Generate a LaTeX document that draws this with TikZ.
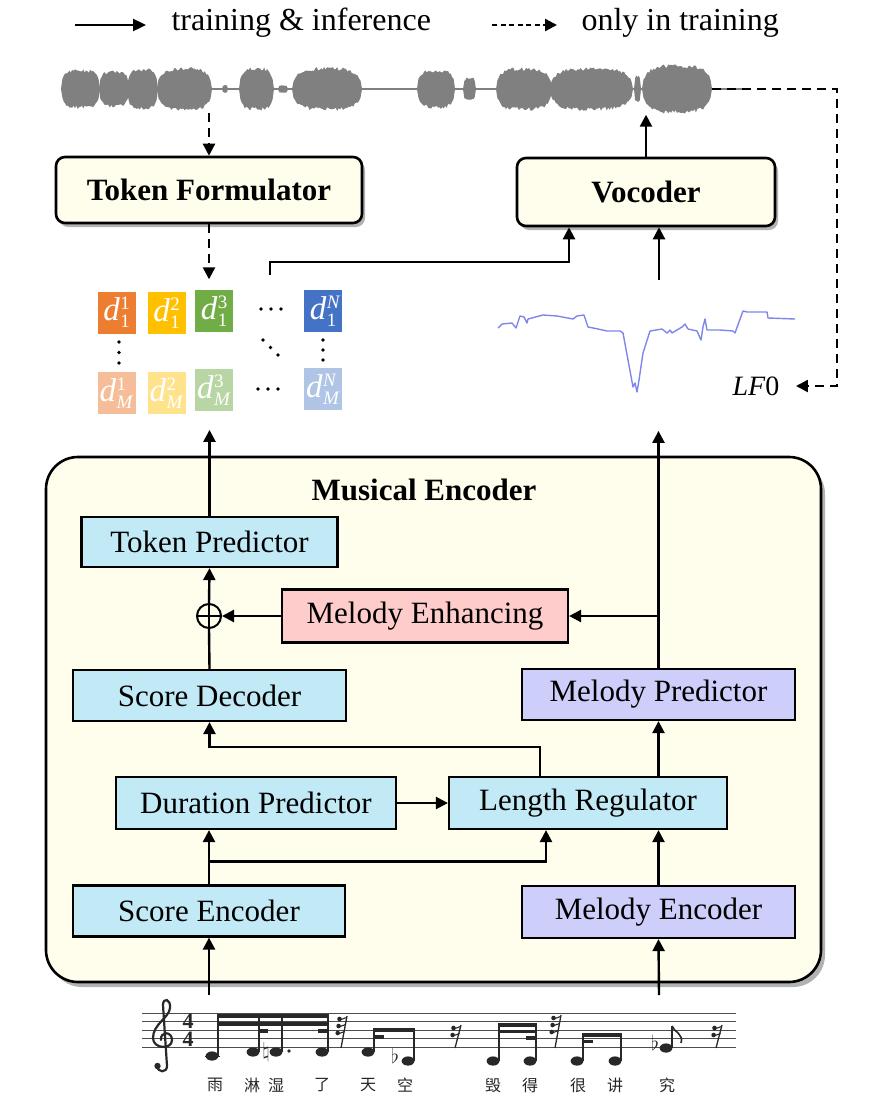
\documentclass[tikz,border=0pt]{standalone}
\usepackage{fontspec}
\setmainfont{Liberation Serif}
\newfontfamily\cjk{Noto Sans CJK SC}
\usetikzlibrary{arrows.meta,shadows}
\definecolor{cream}{RGB}{255,253,235}
\definecolor{lblue}{RGB}{194,234,246}
\definecolor{lpurple}{RGB}{206,206,250}
\definecolor{lpink}{RGB}{255,204,204}
\definecolor{wavegray}{RGB}{128,128,128}
\definecolor{lfblue}{RGB}{125,135,235}
\definecolor{cA}{RGB}{237,125,49}
\definecolor{cB}{RGB}{255,192,0}
\definecolor{cC}{RGB}{112,173,71}
\definecolor{cD}{RGB}{68,114,196}
\definecolor{notec}{RGB}{40,40,40}
\newcommand\dtok[2]{{\itshape d}\kern0.5pt\makebox[0pt][l]{\raisebox{11pt}{\fontsize{19}{19}\selectfont #1}}\raisebox{-7pt}{\fontsize{19}{19}\selectfont #2}}
\tikzset{
  declare function={env(\t)=sqrt(max(0,1-\t*\t*\t*\t));},
  arr/.style={line width=2.4pt,-{Triangle[length=12pt,width=12pt]}},
  darr/.style={line width=2.4pt,dash pattern=on 9pt off 6pt,-{Triangle[length=12pt,width=12pt]}},
  plain/.style={line width=2.4pt},
  mbox/.style={draw,line width=2.2pt,inner sep=0pt,font=\fontsize{31}{36}\selectfont},
  topbox/.style={draw,line width=2.6pt,rounded corners=9pt,fill=cream,inner sep=0pt,
     font=\fontsize{31}{36}\selectfont\bfseries,
     drop shadow={shadow xshift=3pt,shadow yshift=-4pt,opacity=0.3,fill=black}},
  tok/.style={minimum width=38pt,minimum height=42pt,inner sep=0pt,text=white,font=\fontsize{33}{34}\selectfont},
  staff/.style={line width=0.9pt,black!70},
  tsig/.style={notec,font=\fontsize{22}{22}\selectfont\bfseries,inner sep=0pt},
}
\newcommand\wblob[3]{%
  \fill[wavegray] plot[domain=#1:#2,samples={int((#2-#1)/1.5)+3}] (\x,{89-#3*env(2*(\x-#1)/(#2-#1)-1)*(0.82+0.18*rnd)})
   -- plot[domain=#2:#1,samples={int((#2-#1)/1.5)+3}] (\x,{89+#3*env(2*(\x-#1)/(#2-#1)-1)*(0.82+0.18*rnd)}) -- cycle;}
\newcommand\nhead[2]{\fill[notec] (#1,#2) ellipse (6.4 and 4.6);}
\newcommand\srest[3]{%
  \draw[notec,line width=1.3pt] ({#1+4},#2) -- ({#1-2},1048);
  \foreach \k in {1,...,#3}{
    \fill[notec] ({#1-3.5-0.9*(\k-1)},{#2+3+7*(\k-1)}) circle (2.3);
    \draw[notec,line width=1.1pt] ({#1-3.5-0.9*(\k-1)},{#2+4+7*(\k-1)}) -- ({#1+3.5-0.9*(\k-1)},{#2+1.5+7*(\k-1)});
  }}
\begin{document}
\begin{tikzpicture}[x=1pt,y=-1pt]
\useasboundingbox (0,0) rectangle (868,1111);

% ---------------- legend
\coordinate (l1a) at (75,25); \coordinate (l1b) at (146,25);
\draw[line width=2.4pt,-{Triangle[length=13pt,width=12pt]}] (l1a) -- (l1b);
\node[anchor=west,font=\fontsize{32}{36}\selectfont] (lg1) at (168,23) {training \& inference};
\coordinate (l2a) at (492,25); \coordinate (l2b) at (557,25);
\draw[line width=2.4pt,dash pattern=on 5pt off 3.5pt,-{Triangle[length=12pt,width=12pt]}] (l2a) -- (l2b);
\node[anchor=west,font=\fontsize{32}{36}\selectfont] (lg2) at (578,23) {only in training};

% ---------------- waveform
\draw[wavegray,line width=2.5pt] (61,89) -- (748,89);
\wblob{61}{100}{20}
\wblob{99}{129}{19}
\wblob{127}{158}{21}
\wblob{157}{212}{22}
\wblob{222}{228}{4}
\wblob{239}{274}{22}
\wblob{278}{288}{4}
\wblob{292}{362}{22}
\wblob{417}{455}{20}
\wblob{463}{476}{12}
\wblob{496}{552}{22}
\wblob{550}{633}{22}
\wblob{634}{641}{14}
\wblob{642}{712}{25}

% ---------------- top boxes
\node[topbox,minimum width=306pt,minimum height=66pt] (tf) at (209,190) {Token Formulator};
\node[topbox,minimum width=258pt,minimum height=68pt] (voc) at (646,192) {Vocoder};

\coordinate (wv1) at (209,113);
\draw[darr] (wv1) -- (tf.north);
\draw[darr] (tf.south) -- ++(0,55);
\draw[arr] (voc.north) -- ++(0,-42);

% ---------------- tokens
\node[tok,fill=cA] (t11) at (116.5,312.5) {\dtok{1}{1}};
\node[tok,fill=cB] (t12) at (166.5,313) {\dtok{2}{1}};
\node[tok,fill=cC] (t13) at (214,311) {\dtok{3}{1}};
\node[tok,fill=cD] (t1N) at (323,311) {\dtok{\textit{N}}{1}};
\node[tok,fill=cA!50] (tM1) at (116.5,393) {\dtok{1}{\textit{M}}};
\node[tok,fill=cB!45] (tM2) at (166.5,393) {\dtok{2}{\textit{M}}};
\node[tok,fill=cC!50] (tM3) at (214,390) {\dtok{3}{\textit{M}}};
\node[tok,fill=cD!42] (tMN) at (323,389) {\dtok{\textit{N}}{\textit{M}}};
\foreach \p in {(119,342),(119,352.5),(119,363),(323,340),(323,350),(323,360),
  (261,309),(271,309),(281,309),(258,389),(268,389),(278,389),(263,340),(270.5,347.5),(278,355)}
  \fill \p circle (1.9);

\coordinate (tk) at (270,275);
\draw[arr] (tk) -- ++(0,-13) -| ([xshift=-77pt]voc.south);

% ---------------- LF0 curve
\draw[lfblue,line width=1.4pt,line join=round] plot coordinates {
(498,328)(502,324)(512,323)(516,328)(520,316)(524,317)(527,323)(528,319)(543,315)(557,316)
(573,319)(577,316)(584,315)(588,327)(598,329)(607,331)(620,331)(623,333)(628,360)(633,387)
(635,383)(637,392)(639,380)(643,353)(650,331)(662,329)(667,333)(670,330)(672,333)(682,327)
(685,324)(688,329)(697,331)(701,340)(703,327)(705,319)(707,330)(720,330)(733,331)(735,333)
(743,311)(747,312)(767,312)(768,318)(795,319)};
\node[font=\fontsize{28}{30}\selectfont] (lf0) at (756,386) {\textit{LF}0};
\coordinate (lfc) at (659,280);
\draw[arr] (lfc) -- (lfc |- voc.south);
\coordinate (wend) at (712,89);
\draw[darr] (wend) -- ++(125,0) |- ([xshift=13pt]lf0.east);

% ---------------- Musical Encoder
\draw[line width=2.6pt,rounded corners=32pt,fill=cream,
  drop shadow={shadow xshift=4pt,shadow yshift=-5pt,opacity=0.3,fill=black}]
  (46,457) rectangle (821,982);
\node[font=\fontsize{31}{36}\selectfont\bfseries] (mtitle) at (424,490) {Musical Encoder};

\node[mbox,fill=lblue,minimum width=256pt,minimum height=50pt] (tp) at (209.5,542) {Token Predictor};
\node[mbox,fill=lpink,minimum width=286pt,minimum height=53pt] (me) at (425,616) {Melody Enhancing};
\node[draw,circle,line width=2pt,minimum size=24pt,inner sep=0pt] (op) at (209,616) {};
\draw[line width=2pt] (op.north) -- (op.south) (op.west) -- (op.east);
\node[mbox,fill=lblue,minimum width=273pt,minimum height=51pt] (sd) at (209.5,695.5) {Score Decoder};
\node[mbox,fill=lpurple,minimum width=273pt,minimum height=51pt] (mp) at (658.5,694.5) {Melody Predictor};
\node[mbox,fill=lblue,minimum width=280pt,minimum height=52pt] (dp) at (256,803) {Duration Predictor};
\node[mbox,fill=lblue,minimum width=278pt,minimum height=52pt] (lr) at (588,803) {Length Regulator};
\node[mbox,fill=lblue,minimum width=272pt,minimum height=51pt] (se) at (209,911) {Score Encoder};
\node[mbox,fill=lpurple,minimum width=273pt,minimum height=52pt] (mel) at (658.5,912) {Melody Encoder};

\draw[arr] (se.north) -- (se.north |- dp.south);
\draw[arr] ([yshift=23pt]se.north) -| ([xshift=-42pt]lr.south);
\draw[arr] (dp.east) -- (lr.west);
\draw[arr] (mel.north) -- (mel.north |- lr.south);
\draw[arr] (mel.north |- lr.north) -- (mp.south);
\draw[arr] ([xshift=-48pt]lr.north) -- ++(0,-29) -| (sd.south);
\draw[plain] (sd.north) -- (op.south);
\draw[arr] (op.north) -- (tp.south);
\draw[arr] (me.west) -- (op.east);
\draw[arr] (tp.north) -- ++(0,-86);
\draw[arr] (mp.north) -- ++(0,-237);
\draw[arr] (mp.north |- me.east) -- (me.east);

\coordinate (sc1) at (209,995);
\coordinate (sc2) at (659,995);
\draw[arr] (sc1) -- (se.south);
\draw[arr] (sc2) -- (mel.south);

% ---------------- musical score
\foreach \y in {1013,1021.5,1030,1038.5,1047} \draw[staff] (142,\y) -- (736,\y);
% treble clef
\draw[notec,line width=2.2pt,line cap=round]
 (157,1066) .. controls (158,1073) and (167,1073) .. (167,1066)
 -- (163,1005)
 .. controls (163,997) and (171,999) .. (170,1008)
 .. controls (169,1018) and (153,1024) .. (153,1038)
 .. controls (153,1049) and (172,1050) .. (172,1040)
 .. controls (172,1031) and (160,1031) .. (161,1040);
\fill[notec] (157.5,1066) circle (3.2);
\node[tsig] (ts1) at (188,1021.3) {4};
\node[tsig] (ts2) at (188,1038.8) {4};
% group 1
\draw[notec,line width=1pt] (205,1056) -- (220,1056);
\nhead{212}{1056}\nhead{253}{1052}\nhead{276}{1052}\nhead{322}{1052}
\draw[notec,line width=1.2pt] (218,1056) -- (218,1014) (259,1052) -- (259,1014)
  (282,1052) -- (282,1014) (328,1052) -- (328,1014);
\fill[notec] (217.4,1014) rectangle (328.6,1018);
\fill[notec] (217.4,1022) rectangle (328.6,1025.5);
\fill[notec] (258.4,1029) rectangle (268,1032.5);
\fill[notec] (318,1029) rectangle (328.6,1032.5);
\node[notec,font=\fontsize{20}{20}\selectfont,inner sep=0pt] (nat) at (266,1052) {$\natural$};
\fill[notec] (289,1051) circle (1.9);
\srest{343}{1016}{3}
% group 2
\nhead{368}{1052}\nhead{408}{1061}
\draw[notec,line width=1.2pt] (374,1052) -- (374,1028) (414,1061) -- (414,1028);
\fill[notec] (373.4,1028) rectangle (414.6,1031.5);
\fill[notec] (373.4,1035) rectangle (384,1038.5);
\node[notec,font=\fontsize{22}{22}\selectfont,inner sep=0pt] (fl1) at (395,1056) {$\flat$};
\srest{457}{1025}{2}
% group 3
\nhead{493}{1061}\nhead{530}{1061}
\draw[notec,line width=1.2pt] (499,1061) -- (499,1023) (536,1061) -- (536,1023);
\fill[notec] (498.4,1023) rectangle (536.6,1026.5);
\fill[notec] (498.4,1029.5) rectangle (536.6,1033);
\fill[notec] (526,1036) rectangle (536.6,1039.5);
\srest{557}{1015}{3}
% group 4
\nhead{577}{1061}\nhead{615}{1061}
\draw[notec,line width=1.2pt] (583,1061) -- (583,1033) (621,1061) -- (621,1033);
\fill[notec] (582.4,1033) rectangle (621.6,1036.5);
\fill[notec] (582.4,1039.5) rectangle (593,1043);
% Eb eighth
\nhead{666}{1048}
\node[notec,font=\fontsize{22}{22}\selectfont,inner sep=0pt] (fl2) at (655,1043) {$\flat$};
\draw[notec,line width=1.2pt] (672,1048) -- (672,1026);
\draw[notec,line width=1.6pt] (672,1026) .. controls (674,1032) and (684,1034) .. (681,1043);
\srest{718}{1025}{2}
% lyrics
\foreach \xx/\ch in {215/雨,252/淋,276/湿,322/了,368/天,405/空,493/毁,530/得,578/很,615/讲,667/究}
  \node[font=\cjk\fontsize{16}{16}\selectfont,text=black!85,inner sep=0pt] at (\xx,1085) {\ch};
\end{tikzpicture}
\end{document}
